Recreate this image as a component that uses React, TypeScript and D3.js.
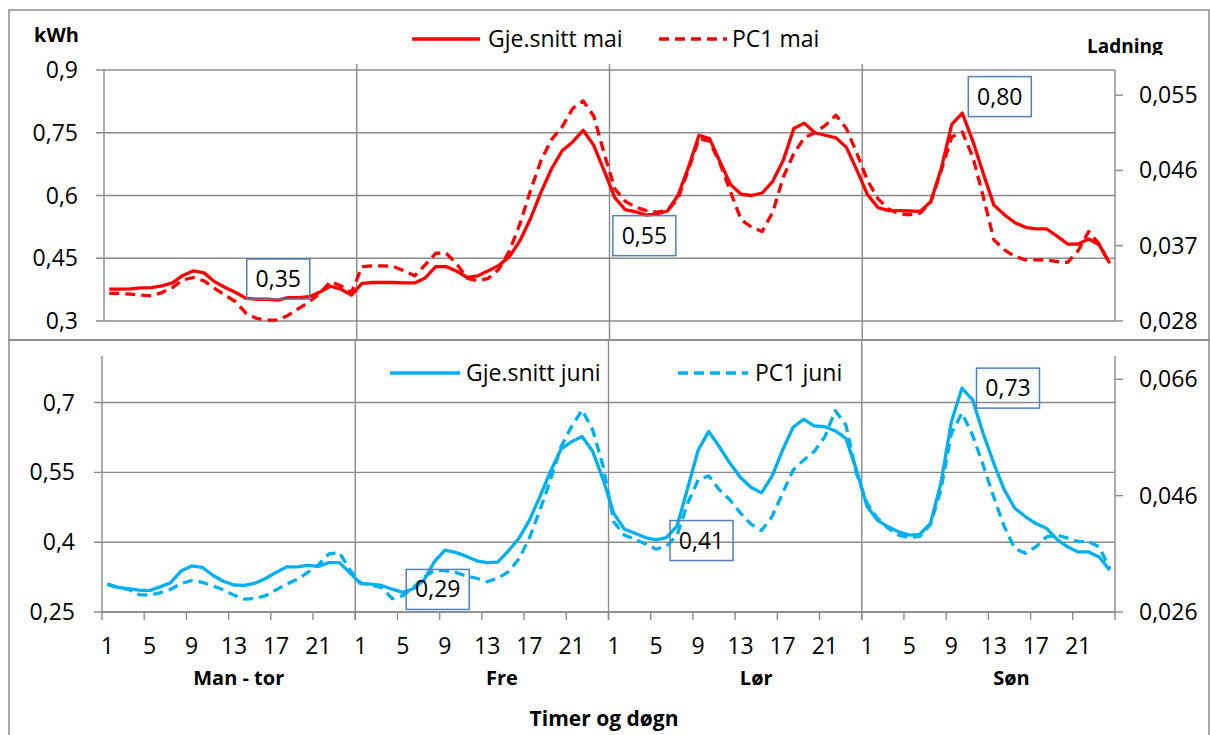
import React from "react";
import * as d3 from "d3";

const days = ["Man - tor", "Fre", "Lør", "Søn"];
const hours = d3.range(1, 25);
const hourTickLabels = [1, 5, 9, 13, 17, 21];

const maiAvg = [
  0.376, 0.376, 0.377, 0.379, 0.380, 0.384, 0.391, 0.409, 0.420, 0.415, 0.394, 0.380, 0.368, 0.354, 0.352, 0.352, 0.350, 0.356, 0.356, 0.358, 0.369, 0.383, 0.376, 0.362,
  0.390, 0.392, 0.392, 0.392, 0.391, 0.391, 0.403, 0.430, 0.430, 0.419, 0.404, 0.408, 0.420, 0.433, 0.454, 0.492, 0.545, 0.608, 0.664, 0.707, 0.728, 0.756, 0.720, 0.659,
  0.595, 0.566, 0.561, 0.553, 0.556, 0.563, 0.600, 0.668, 0.744, 0.736, 0.680, 0.626, 0.603, 0.600, 0.606, 0.634, 0.684, 0.760, 0.773, 0.750, 0.744, 0.738, 0.715, 0.660,
  0.602, 0.571, 0.564, 0.564, 0.563, 0.562, 0.585, 0.664, 0.770, 0.797, 0.730, 0.652, 0.577, 0.554, 0.535, 0.524, 0.520, 0.520, 0.503, 0.484, 0.484, 0.496, 0.482, 0.438,
];

const maiPC1 = [
  0.0313, 0.0313, 0.0312, 0.0311, 0.0310, 0.0314, 0.0320, 0.0329, 0.0332, 0.0328, 0.0319, 0.0311, 0.0303, 0.0289, 0.0283, 0.0281, 0.0281, 0.0287, 0.0295, 0.0303, 0.0313, 0.0327, 0.0322, 0.0314,
  0.0345, 0.0346, 0.0346, 0.0345, 0.0340, 0.0334, 0.0347, 0.0361, 0.0361, 0.0348, 0.0331, 0.0328, 0.0331, 0.0342, 0.0364, 0.0396, 0.0436, 0.0472, 0.0497, 0.0512, 0.0534, 0.0543, 0.0525, 0.0480,
  0.0438, 0.0423, 0.0416, 0.0412, 0.0410, 0.0412, 0.0426, 0.0461, 0.0498, 0.0495, 0.0468, 0.0434, 0.0401, 0.0392, 0.0387, 0.0410, 0.0452, 0.0480, 0.0499, 0.0505, 0.0514, 0.0526, 0.0510, 0.0480,
  0.0448, 0.0426, 0.0414, 0.0408, 0.0407, 0.0409, 0.0422, 0.0460, 0.0500, 0.0506, 0.0476, 0.0428, 0.0377, 0.0365, 0.0357, 0.0353, 0.0353, 0.0353, 0.0351, 0.0350, 0.0364, 0.0387, 0.0372, 0.0348,
];

const juniAvg = [
  0.310, 0.303, 0.300, 0.297, 0.296, 0.304, 0.313, 0.338, 0.349, 0.346, 0.329, 0.316, 0.308, 0.307, 0.312, 0.322, 0.335, 0.347, 0.347, 0.350, 0.348, 0.356, 0.356, 0.334,
  0.311, 0.310, 0.307, 0.299, 0.292, 0.300, 0.318, 0.358, 0.383, 0.378, 0.370, 0.360, 0.356, 0.357, 0.381, 0.408, 0.447, 0.498, 0.552, 0.600, 0.616, 0.627, 0.595, 0.534,
  0.462, 0.428, 0.419, 0.410, 0.405, 0.410, 0.435, 0.516, 0.598, 0.638, 0.605, 0.570, 0.539, 0.518, 0.506, 0.542, 0.598, 0.647, 0.664, 0.650, 0.648, 0.639, 0.623, 0.555,
  0.477, 0.447, 0.433, 0.422, 0.415, 0.417, 0.440, 0.526, 0.659, 0.731, 0.706, 0.634, 0.570, 0.513, 0.473, 0.455, 0.440, 0.430, 0.406, 0.390, 0.379, 0.379, 0.368, 0.340,
];

const juniPC1 = [
  0.0308, 0.0302, 0.0299, 0.0290, 0.0289, 0.0293, 0.0299, 0.0309, 0.0314, 0.0311, 0.0305, 0.0298, 0.0289, 0.0282, 0.0283, 0.0288, 0.0298, 0.0308, 0.0316, 0.0328, 0.0341, 0.0360, 0.0362, 0.0332,
  0.0310, 0.0306, 0.0302, 0.0283, 0.0288, 0.0302, 0.0320, 0.0331, 0.0331, 0.0328, 0.0322, 0.0318, 0.0312, 0.0318, 0.0329, 0.0351, 0.0387, 0.0435, 0.0487, 0.0544, 0.0579, 0.0607, 0.0573, 0.0510,
  0.0415, 0.0392, 0.0385, 0.0377, 0.0368, 0.0373, 0.0392, 0.0447, 0.0487, 0.0494, 0.0470, 0.0453, 0.0430, 0.0411, 0.0400, 0.0424, 0.0464, 0.0504, 0.0521, 0.0536, 0.0561, 0.0606, 0.0581, 0.0498,
  0.0447, 0.0421, 0.0404, 0.0392, 0.0388, 0.0390, 0.0410, 0.0470, 0.0567, 0.0602, 0.0564, 0.0513, 0.0458, 0.0407, 0.0369, 0.0361, 0.0372, 0.0389, 0.0392, 0.0387, 0.0381, 0.0381, 0.0372, 0.0335,
];

const maiLeftTicks = [0.3, 0.45, 0.6, 0.75, 0.9];
const maiRightTicks = [0.028, 0.037, 0.046, 0.055];
const juniLeftTicks = [0.25, 0.4, 0.55, 0.7];
const juniRightTicks = [0.026, 0.046, 0.066];

// annotated points: index into the solid series
const maiLabelIdx = [16, 51, 81];
const juniLabelIdx = [28, 53, 81];

const RED = "#FF0000";
const BLUE = "#00B0F0";
const GRID = "#8a8a8a";
const BOX = "#4F81BD";
const FONT = "'Open Sans', sans-serif";
const FS = 23;
const LW = 3.3;
const DASH = "10,6";

const fmt = (v: number, d: number) => v.toFixed(d).replace(".", ",");

type PanelProps = {
  left: number; right: number; top: number; bottom: number;
  yDomain: [number, number]; y2Domain: [number, number];
  leftTicks: number[]; rightTicks: number[];
  avg: number[]; pc: number[]; color: string;
  labelIdx: number[]; labelPos: { dx: number; dy: number }[];
  leftLabelX: number; vTop: number; vBottom: number;
};

function Panel(p: PanelProps) {
  const x = d3.scaleBand<number>().domain(d3.range(96)).range([p.left, p.right]);
  const bw = x.bandwidth();
  const cx = (i: number) => (x(i) as number) + bw / 2;
  const y = d3.scaleLinear().domain(p.yDomain).range([p.bottom, p.top]);
  const y2 = d3.scaleLinear().domain(p.y2Domain).range([p.bottom, p.top]);
  const lineA = d3.line<number>().x((_, i) => cx(i)).y((v) => y(v));
  const lineB = d3.line<number>().x((_, i) => cx(i)).y((v) => y2(v));
  return (
    <g>
      {p.leftTicks.map((t) => (
        <g key={"l" + t}>
          <line x1={p.left - 8} x2={p.right} y1={y(t)} y2={y(t)} stroke={GRID} strokeWidth={1.4} />
          <text x={p.leftLabelX} y={y(t) + 8} textAnchor="end" fontSize={FS} fontFamily={FONT}>{String(t).replace(".", ",")}</text>
        </g>
      ))}
      {[1, 2, 3].map((d) => (
        <line key={"v" + d} x1={x(d * 24)} x2={x(d * 24)} y1={p.vTop} y2={p.vBottom} stroke={GRID} strokeWidth={1.4} />
      ))}
      <line x1={p.left} x2={p.left} y1={p.top} y2={p.bottom} stroke={GRID} strokeWidth={1.4} />
      <line x1={p.right} x2={p.right} y1={p.top} y2={p.bottom} stroke={GRID} strokeWidth={1.4} />
      {p.rightTicks.map((t) => (
        <g key={"r" + t}>
          <line x1={p.right} x2={p.right + 8} y1={y2(t)} y2={y2(t)} stroke={GRID} strokeWidth={1.4} />
          <text x={1139} y={y2(t) + 8} fontSize={FS} fontFamily={FONT}>{fmt(t, 3)}</text>
        </g>
      ))}
      <path d={lineA(p.avg) as string} fill="none" stroke={p.color} strokeWidth={LW} strokeLinejoin="round" />
      <path d={lineB(p.pc) as string} fill="none" stroke={p.color} strokeWidth={LW} strokeDasharray={DASH} strokeLinejoin="round" />
      {p.labelIdx.map((idx, k) => {
        const px = cx(idx) + p.labelPos[k].dx;
        const py = y(p.avg[idx]) + p.labelPos[k].dy;
        return (
          <g key={"lab" + idx}>
            <rect x={px - 31.5} y={py - 20} width={63} height={40} fill="none" stroke={BOX} strokeWidth={1.5} />
            <text x={px} y={py + 8} textAnchor="middle" fontSize={FS} fontFamily={FONT}>{fmt(p.avg[idx], 2)}</text>
          </g>
        );
      })}
    </g>
  );
}

export default function App() {
  const topL = 104, botL = 102, R = 1115;
  const xb = d3.scaleBand<number>().domain(d3.range(96)).range([botL, R]);
  const bw = xb.bandwidth();
  const botY = 612;
  const dayLabelShift = [-11, -1, 0, 2];
  return (
    <svg width={1210} height={735} style={{ position: "absolute", left: 0, top: 0, background: "#fff" }}>
      <defs>
        <clipPath id="ladClip"><rect x={1080} y={20} width={120} height={35} /></clipPath>
      </defs>
      <rect x={0} y={0} width={1210} height={735} fill="#fff" />
      <rect x={9} y={10} width={1200} height={330} fill="none" stroke={GRID} strokeWidth={1.5} />
      <rect x={9} y={340} width={1200} height={400} fill="none" stroke={GRID} strokeWidth={1.5} />

      <text x={34} y={42} fontSize={20} fontWeight="bold" fontFamily={FONT}>kWh</text>
      <text x={1087} y={53} fontSize={19} fontWeight="bold" fontFamily={FONT} clipPath="url(#ladClip)">Ladning</text>
      <Panel left={topL} right={R} top={70} bottom={321}
        yDomain={[0.3, 0.9]} y2Domain={[0.028, 0.058]}
        leftTicks={maiLeftTicks} rightTicks={maiRightTicks}
        avg={maiAvg} pc={maiPC1} color={RED}
        labelIdx={maiLabelIdx}
        labelPos={[{ dx: 0.5, dy: -21 }, { dx: -2, dy: 20.5 }, { dx: 37.5, dy: -16.5 }]}
        leftLabelX={78} vTop={64} vBottom={340} />
      <line x1={412} x2={480} y1={39} y2={39} stroke={RED} strokeWidth={LW} />
      <text x={488} y={47} fontSize={FS} fontFamily={FONT}>Gje.snitt mai</text>
      <line x1={659} x2={727} y1={39} y2={39} stroke={RED} strokeWidth={LW} strokeDasharray={DASH} />
      <text x={732} y={47} fontSize={FS} fontFamily={FONT}>PC1 mai</text>

      <Panel left={botL} right={R} top={356} bottom={botY}
        yDomain={[0.25, 0.8]} y2Domain={[0.026, 0.07]}
        leftTicks={juniLeftTicks} rightTicks={juniRightTicks}
        avg={juniAvg} pc={juniPC1} color={BLUE}
        labelIdx={juniLabelIdx}
        labelPos={[{ dx: 35, dy: -3 }, { dx: 35, dy: 3 }, { dx: 46, dy: 0 }]}
        leftLabelX={75} vTop={340} vBottom={620} />
      <line x1={botL} x2={R} y1={botY} y2={botY} stroke={GRID} strokeWidth={1.4} />
      <line x1={R} x2={R} y1={botY} y2={620} stroke={GRID} strokeWidth={1.4} />
      {d3.range(0, 96, 4).map((i) => (
        <line key={"tk" + i} x1={xb(i)} x2={xb(i)} y1={botY} y2={620} stroke={GRID} strokeWidth={1.4} />
      ))}
      {days.map((d, di) =>
        hours.filter((h) => hourTickLabels.includes(h)).map((h) => (
          <text key={d + h} x={(xb(di * 24 + h - 1) as number) + bw / 2} y={654} textAnchor="middle" fontSize={FS} fontFamily={FONT}>{h}</text>
        ))
      )}
      {days.map((d, di) => (
        <text key={d} x={botL + (di * 24 + 14) * bw + dayLabelShift[di]} y={685} textAnchor="middle" fontSize={20} fontWeight="bold" fontFamily={FONT}>{d}</text>
      ))}
      <text x={604} y={726} textAnchor="middle" fontSize={21} fontWeight="bold" fontFamily={FONT}>Timer og døgn</text>
      <line x1={390} x2={460} y1={373} y2={373} stroke={BLUE} strokeWidth={LW} />
      <text x={466} y={381} fontSize={FS} fontFamily={FONT}>Gje.snitt juni</text>
      <line x1={678} x2={748} y1={373} y2={373} stroke={BLUE} strokeWidth={LW} strokeDasharray={DASH} />
      <text x={755} y={381} fontSize={FS} fontFamily={FONT}>PC1 juni</text>
    </svg>
  );
}
